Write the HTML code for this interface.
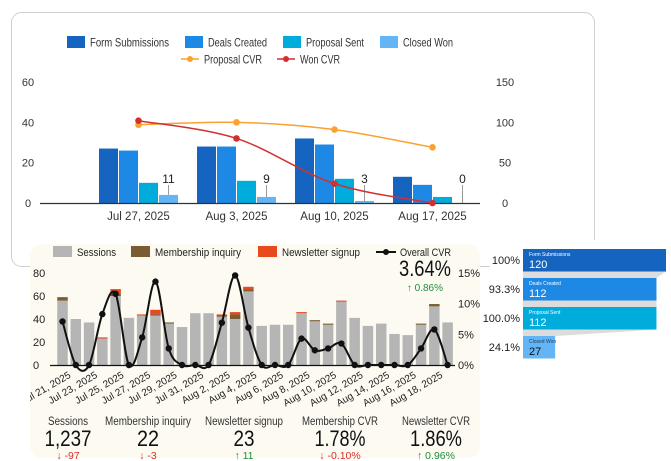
<!DOCTYPE html>
<html><head><meta charset="utf-8">
<style>
html,body{margin:0;padding:0;background:#fff;}
svg{display:block;font-family:"Liberation Sans",Arial,sans-serif;}
</style></head>
<body>
<svg id="s" width="671" height="461" viewBox="0 0 671 461" xmlns="http://www.w3.org/2000/svg">
<rect x="11.5" y="12.5" width="583" height="254" rx="10" fill="#fff" stroke="#cfcfcf"/>
<g id="top"></g>
<rect x="30" y="244" width="450" height="214" rx="12" fill="#fdfaf2"/>
<g id="bot"></g>
<g id="kpi"></g>
<rect x="490" y="240" width="181" height="125" fill="#fff"/>
<g id="fun"></g>
</svg>
<script>
// ---- top chart data ----
const weeks = ["Jul 27, 2025","Aug 3, 2025","Aug 10, 2025","Aug 17, 2025"];
const formSubs = [27,28,32,13];
const dealsCreated = [26,28,29,9];
const proposalSent = [10,11,12,3];
const closedWon = [4,3,1,0];
const wonLabels = ["11","9","3","0"];
const proposalCVR = [97,100,91,69];
const wonCVR = [102,80,24,0];
const leftTicks = [0,20,40,60];
const rightTicks = [0,50,100,150];

// ---- bottom chart data ----
const days = ["Jul 21, 2025","Jul 22, 2025","Jul 23, 2025","Jul 24, 2025","Jul 25, 2025","Jul 26, 2025","Jul 27, 2025","Jul 28, 2025","Jul 29, 2025","Jul 30, 2025","Jul 31, 2025","Aug 1, 2025","Aug 2, 2025","Aug 3, 2025","Aug 4, 2025","Aug 5, 2025","Aug 6, 2025","Aug 7, 2025","Aug 8, 2025","Aug 9, 2025","Aug 10, 2025","Aug 11, 2025","Aug 12, 2025","Aug 13, 2025","Aug 14, 2025","Aug 15, 2025","Aug 16, 2025","Aug 17, 2025","Aug 18, 2025","Aug 19, 2025"];
const sessions = [56,40,37,23,60,41,43,43,36,33,45,45,42,40,64,34,35,35,45,38,35,55,41,34,36,27,26,35,51,37];
const membership = [3,0,0,0,2,0,0,1,1,0,0,0,1,4,2,0,0,0,0,1,1,0,0,0,0,0,0,1,2,0];
const newsletter = [0,0,0,1,4,0,1,4,0,0,0,0,1,2,2,0,0,0,1,0,0,1,0,0,0,0,0,0,0,0];
const overallCVR = [7.1,0,0,8.3,11.6,0,4.5,13.6,2.7,0,0,0,6.9,14.6,6.1,0,0,0,4.3,2.4,2.7,3.5,0,0,0,0,0,2.7,5.8,0];
const bLeftTicks = [0,20,40,60,80];
const bRightTicks = ["0%","5%","10%","15%"];
const bRightVals = [0,5,10,15];

// ---- funnel data ----
const funnelStages = ["Form Submissions","Deals Created","Proposal Sent","Closed Won"];
const funnelValues = [120,112,112,27];
const funnelPct = ["100%","93.3%","100.0%","24.1%"];

// ---- kpis ----
const kpiNames = ["Sessions","Membership inquiry","Newsletter signup","Membership CVR","Newsletter CVR"];
const kpiValues = ["1,237","22","23","1.78%","1.86%"];
const kpiDeltas = ["-97","-3","11","-0.10%","0.96%"];
const kpiUp = [false,false,true,false,true];

const NS="http://www.w3.org/2000/svg";
function mk(p,tag,at,txt){const e=document.createElementNS(NS,tag);for(const k in at)e.setAttribute(k,at[k]);if(txt!==undefined)e.textContent=txt;p.appendChild(e);return e;}
function fit(e,w){e.setAttribute('textLength',w);e.setAttribute('lengthAdjust','spacingAndGlyphs');}
function smooth(pts){let d="M"+pts[0][0]+","+pts[0][1];for(let i=0;i<pts.length-1;i++){const p0=pts[i-1]||pts[i],p1=pts[i],p2=pts[i+1],p3=pts[i+2]||p2;const c1x=p1[0]+(p2[0]-p0[0])/6,c1y=p1[1]+(p2[1]-p0[1])/6,c2x=p2[0]-(p3[0]-p1[0])/6,c2y=p2[1]-(p3[1]-p1[1])/6;d+=" C"+c1x+","+c1y+" "+c2x+","+c2y+" "+p2[0]+","+p2[1];}return d;}

// ===== TOP CHART =====
(function(){
const g=document.getElementById('top');
const y0=203,yTop=82;
const yL=v=>y0-(v/60)*(y0-yTop);
const yR=v=>y0-(v/150)*(y0-yTop);
const xc=i=>138.5+i*98;
const cols=["#1565c0","#1e88e5","#00acdc","#64b5f6"];
const names=["Form Submissions","Deals Created","Proposal Sent","Closed Won"];
const lx=[67,185,283,380];
const lw=[79,59,58,50];
names.forEach((n,i)=>{
 const r=mk(g,'rect',{x:lx[i],y:36,width:18,height:12,fill:cols[i]});
 
 
 const t=mk(g,'text',{x:lx[i]+23,y:46.5,'font-size':12,fill:'#333'},n);
 fit(t,lw[i]);
 
 
});
[[181,"#f9a22f","Proposal CVR",58],[277,"#d32f2f","Won CVR",40]].forEach(([x,c,n,w])=>{
 const l=mk(g,'line',{x1:x,y1:59,x2:x+18,y2:59,stroke:c,'stroke-width':1.5});
 
 
 mk(g,'circle',{cx:x+9,cy:59,r:3,fill:c});
 const t=mk(g,'text',{x:x+23,y:63.5,'font-size':12,fill:'#333'},n);
 fit(t,w);
 
 
});
leftTicks.forEach(v=>{const t=mk(g,'text',{x:28,y:yL(v)+4,'font-size':11,fill:'#333','text-anchor':'middle'},v);});
rightTicks.forEach(v=>{const t=mk(g,'text',{x:505,y:yR(v)+4,'font-size':11,fill:'#333','text-anchor':'middle'},v);});
const series=[formSubs,dealsCreated,proposalSent,closedWon];
weeks.forEach((w,i)=>{
 series.forEach((s,k)=>{
  const x=xc(i)-39.5+k*20, h=yL(0)-yL(s[i]);
  const r=mk(g,'rect',{x:x,y:yL(s[i]),width:19,height:Math.max(h,0.01),fill:cols[k]});
  
  
 });
 const cx=xc(i)+30, top=yL(closedWon[i]);
 mk(g,'line',{x1:cx,y1:top,x2:cx,y2:185,stroke:'#999','stroke-width':1});
 const lt=mk(g,'text',{x:cx,y:183,'font-size':12,fill:'#222','text-anchor':'middle'},wonLabels[i]);
 
 
 const xt=mk(g,'text',{x:xc(i),y:220,'font-size':11.5,fill:'#333','text-anchor':'middle'},w);
 
 
});
mk(g,'line',{x1:40,y1:y0+0.5,x2:480,y2:y0+0.5,stroke:'#333','stroke-width':1.2});
[[proposalCVR,"#f9a22f","proposal-cvr"],[wonCVR,"#d32f2f","won-cvr"]].forEach(([arr,c,n])=>{
 const pts=arr.map((v,i)=>[xc(i),yR(v)]);
 const p=mk(g,'path',{d:smooth(pts),fill:'none',stroke:c,'stroke-width':1.5});
 
 
 pts.forEach(q=>{const d=mk(g,'circle',{cx:q[0],cy:q[1],r:3.3,fill:c});});
});
})();

// ===== BOTTOM CHART =====
(function(){
const g=document.getElementById('bot');
const y0=365,yTop=273;
const yL=v=>y0-(v/80)*(y0-yTop);
const yR=v=>y0-(v/15)*(y0-yTop);
const xc=i=>62.5+i*13.28;
const lg=[[53,"#b5b5b5","Sessions",39],[131,"#7a5c33","Membership inquiry",86],[258,"#e8491d","Newsletter signup",78]];
lg.forEach(([x,c,n,w])=>{
 const r=mk(g,'rect',{x:x,y:246,width:19,height:11,fill:c});
 
 
 const t=mk(g,'text',{x:x+24,y:256,'font-size':11,fill:'#222'},n);
 fit(t,w);
 
 
});
mk(g,'line',{x1:376,y1:252,x2:396,y2:252,stroke:'#111','stroke-width':2});
mk(g,'circle',{cx:386,cy:252,r:3,fill:'#111'});
const lt=mk(g,'text',{x:400,y:256,'font-size':11,fill:'#222'},"Overall CVR");
fit(lt,51);


bLeftTicks.forEach(v=>{const t=mk(g,'text',{x:33,y:yL(v)+4,'font-size':11,fill:'#222'},v);});
bRightVals.forEach((v,i)=>{const t=mk(g,'text',{x:458,y:yR(v)+4,'font-size':11,fill:'#222'},bRightTicks[i]);});
days.forEach((d,i)=>{
 const x=xc(i)-5.25;
 let base=sessions[i];
 const r=mk(g,'rect',{x:x,y:yL(base),width:10.5,height:yL(0)-yL(base),fill:'#b5b5b5'});
 
 
 if(membership[i]>0){const m=mk(g,'rect',{x:x,y:yL(base+membership[i]),width:10.5,height:yL(base)-yL(base+membership[i]),fill:'#7a5c33'});base+=membership[i];}
 if(newsletter[i]>0){const n=mk(g,'rect',{x:x,y:yL(base+newsletter[i]),width:10.5,height:yL(base)-yL(base+newsletter[i]),fill:'#e8491d'});}
 if(i%2===0){
  const t=mk(g,'text',{x:xc(i)+9,y:377,'font-size':10,fill:'#222','text-anchor':'end',transform:'rotate(-30 '+(xc(i)+9)+' 377)'},d);
  
  
 }
});
mk(g,'line',{x1:50,y1:y0+0.5,x2:455,y2:y0+0.5,stroke:'#111','stroke-width':1.2});
const pts=overallCVR.map((v,i)=>[xc(i),yR(v)]);
const p=mk(g,'path',{d:smooth(pts),fill:'none',stroke:'#111','stroke-width':2});


pts.forEach(q=>{const c=mk(g,'circle',{cx:q[0],cy:q[1],r:3.2,fill:'#111'});});
mk(g,'rect',{x:0,y:366,width:30,height:40,fill:'#fff'});
const big=mk(g,'text',{x:399,y:276,'font-size':22,fill:'#111'},"3.64%");
fit(big,52);


const dl=mk(g,'text',{x:443,y:291,'font-size':10,fill:'#1e8e3e','text-anchor':'end'},"\u2191 0.86%");


mk(g,'line',{x1:480,y1:266.5,x2:490,y2:266.5,stroke:'#cfcfcf'});
})();

// ===== KPIs =====
(function(){
const g=document.getElementById('kpi');
const cx=[68,148,244,340,436];
const lw=[40,86,78,76,68];
const vw=[47,22,21,51,52];
kpiNames.forEach((n,i)=>{
 const a=mk(g,'text',{x:cx[i],y:425,'font-size':11.5,fill:'#333','text-anchor':'middle'},n);
 fit(a,lw[i]);
 
 
 const b=mk(g,'text',{x:cx[i],y:446,'font-size':22,fill:'#111','text-anchor':'middle'},kpiValues[i]);
 fit(b,vw[i]);
 
 
 const c=mk(g,'text',{x:cx[i],y:459,'font-size':10.5,fill:kpiUp[i]?'#1e8e3e':'#d93025','text-anchor':'middle'},(kpiUp[i]?"\u2191 ":"\u2193 ")+kpiDeltas[i]);
 
 
});
})();

// ===== FUNNEL =====
(function(){
const g=document.getElementById('fun');
const cols=["#1565c0","#1e88e5","#00acdc","#64b5f6"];
const x0=523,maxW=143,y0=249,h=22.5,pitch=29;
const w=v=>v/funnelValues[0]*maxW;
funnelValues.forEach((v,i)=>{
 if(i<funnelValues.length-1){
  const yb=y0+i*pitch+h, yn=y0+(i+1)*pitch;
  mk(g,'polygon',{points:x0+','+yb+' '+(x0+w(v))+','+yb+' '+(x0+w(funnelValues[i+1]))+','+yn+' '+x0+','+yn,fill:'#dcdcdc'});
 }
});
funnelValues.forEach((v,i)=>{
 const y=y0+i*pitch;
 const r=mk(g,'rect',{x:x0,y:y,width:Math.max(w(v),1),height:h,fill:cols[i]});
 
 
 const tc=i===3?'#1a3a5c':'#fff';
 mk(g,'text',{x:x0+6,y:y+7,'font-size':5,fill:tc},funnelStages[i]);
 const vt=mk(g,'text',{x:x0+6,y:y+19,'font-size':11,fill:i===3?'#111':'#fff'},v);
 
 
 const p=mk(g,'text',{x:520,y:y+15,'font-size':11,fill:'#222','text-anchor':'end'},funnelPct[i]);
 
 
});
})();
</script>
</body></html>
